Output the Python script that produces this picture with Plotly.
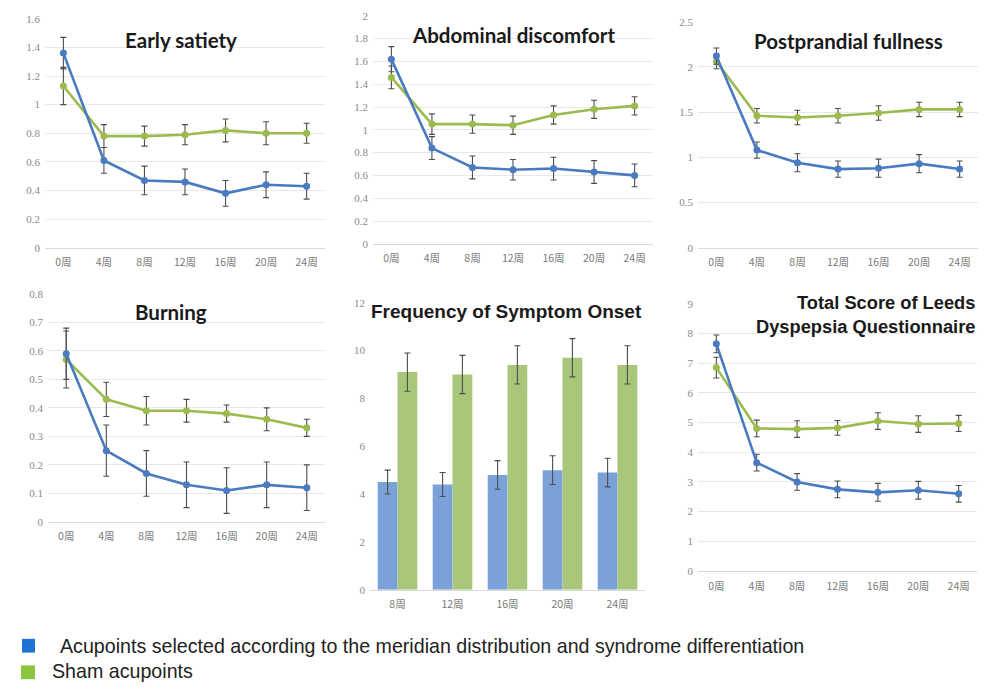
import plotly.graph_objects as go

W, H = 985, 692

weeks = ["0周", "4周", "8周", "12周", "16周", "20周", "24周"]
bar_weeks = ["8周", "12周", "16周", "20周", "24周"]

# Early satiety
es_real = [1.36, 0.61, 0.47, 0.46, 0.38, 0.44, 0.43]
es_real_err = [0.11, 0.09, 0.10, 0.09, 0.09, 0.09, 0.09]
es_sham = [1.13, 0.78, 0.78, 0.79, 0.82, 0.80, 0.80]
es_sham_err = [0.13, 0.08, 0.07, 0.07, 0.08, 0.08, 0.07]

# Abdominal discomfort
ad_real = [1.62, 0.84, 0.67, 0.65, 0.66, 0.63, 0.60]
ad_real_err = [0.11, 0.10, 0.10, 0.09, 0.10, 0.10, 0.10]
ad_sham = [1.46, 1.05, 1.05, 1.04, 1.13, 1.18, 1.21]
ad_sham_err = [0.10, 0.09, 0.08, 0.08, 0.08, 0.08, 0.08]

# Postprandial fullness
pf_real = [2.12, 1.08, 0.94, 0.87, 0.88, 0.93, 0.87]
pf_real_err = [0.09, 0.09, 0.10, 0.09, 0.10, 0.10, 0.09]
pf_sham = [2.06, 1.46, 1.44, 1.46, 1.49, 1.53, 1.53]
pf_sham_err = [0.08, 0.08, 0.08, 0.08, 0.08, 0.08, 0.08]

# Burning
bu_real = [0.59, 0.25, 0.17, 0.13, 0.11, 0.13, 0.12]
bu_real_err = [0.09, 0.09, 0.08, 0.08, 0.08, 0.08, 0.08]
bu_sham = [0.57, 0.43, 0.39, 0.39, 0.38, 0.36, 0.33]
bu_sham_err = [0.10, 0.06, 0.05, 0.04, 0.03, 0.04, 0.03]

# Frequency of symptom onset
fq_real = [4.5, 4.4, 4.8, 5.0, 4.9]
fq_real_err = [0.5, 0.5, 0.6, 0.6, 0.6]
fq_sham = [9.1, 9.0, 9.4, 9.7, 9.4]
fq_sham_err = [0.8, 0.8, 0.8, 0.8, 0.8]

# Total score of Leeds Dyspepsia Questionnaire
ld_real = [7.65, 3.65, 3.00, 2.75, 2.65, 2.72, 2.60]
ld_real_err = [0.30, 0.28, 0.28, 0.28, 0.30, 0.30, 0.28]
ld_sham = [6.85, 4.80, 4.78, 4.82, 5.05, 4.95, 4.97]
ld_sham_err = [0.35, 0.28, 0.28, 0.25, 0.28, 0.28, 0.27]

BLUE_LINE = "#4a7bc0"
GREEN_LINE = "#9bbb4f"
BLUE_BAR = "#7ba2d8"
GREEN_BAR = "#a8c77a"
ERR = "#4d4d4d"
TICK = dict(family="Liberation Serif", size=11, color="#8a8a8a")
XTICK = dict(family="Noto Sans CJK SC", size=10.5, color="#7a7a7a")


def xd(a, b):
    return [a / W, b / W]


def yd(top, bottom):
    return [1 - bottom / H, 1 - top / H]


fig = go.Figure()


def add_lines(idx, real, real_err, sham, sham_err):
    xa = "x" if idx == 1 else f"x{idx}"
    ya = "y" if idx == 1 else f"y{idx}"
    for vals, errs, col in ((sham, sham_err, GREEN_LINE), (real, real_err, BLUE_LINE)):
        fig.add_trace(go.Scatter(
            x=weeks, y=vals, xaxis=xa, yaxis=ya, mode="lines+markers",
            line=dict(color=col, width=2.6),
            marker=dict(color=col, size=7, symbol="circle"),
            error_y=dict(type="data", array=errs, color=ERR, thickness=1.1, width=3),
            showlegend=False,
        ))


add_lines(1, es_real, es_real_err, es_sham, es_sham_err)
add_lines(2, ad_real, ad_real_err, ad_sham, ad_sham_err)
add_lines(3, pf_real, pf_real_err, pf_sham, pf_sham_err)
add_lines(4, bu_real, bu_real_err, bu_sham, bu_sham_err)
add_lines(6, ld_real, ld_real_err, ld_sham, ld_sham_err)

for vals, errs, col in ((fq_real, fq_real_err, BLUE_BAR), (fq_sham, fq_sham_err, GREEN_BAR)):
    fig.add_trace(go.Bar(
        x=bar_weeks, y=vals, xaxis="x5", yaxis="y5", marker=dict(color=col, line=dict(width=0)),
        error_y=dict(type="data", array=errs, color=ERR, thickness=1.1, width=3),
        showlegend=False,
    ))

# panel geometry: (x-left, x-right, y-top, y-bottom, ymax, dtick, grid)
panels = {
    1: (45, 325, 13, 246, 1.6, 0.2, True),
    2: (373, 653, 10, 242, 2.0, 0.2, True),
    3: (698, 978, 16, 246, 2.5, 0.5, True),
    4: (48, 325, 293, 525, 0.8, 0.1, True),
    5: (370, 645, 302, 594, 12, 2, False),
    6: (698, 977, 303, 575, 9, 1, True),
}

layout = {}
for i, (x0, x1, y0, y1, ymax, dt, grid) in panels.items():
    sx = "" if i == 1 else str(i)
    layout["xaxis" + sx] = dict(
        domain=xd(x0, x1), anchor="y" + sx, type="category",
        showgrid=False, showline=True, linecolor="#d9d9d9", linewidth=1,
        ticks="", tickfont=XTICK, ticklabelstandoff=5, fixedrange=True, zeroline=False,
    )
    layout["yaxis" + sx] = dict(
        domain=yd(y0, y1), anchor="x" + sx, range=[0, ymax], dtick=dt,
        showgrid=grid, gridcolor="#e8e8e8", gridwidth=1, zeroline=False,
        showline=False, ticks="", tickfont=TICK, ticklabelstandoff=4, fixedrange=True,
    )

TITLE = dict(family="Lato", size=20.5, color="#1a1a1a")
TITLE_F = dict(family="Liberation Sans", size=19, color="#1a1a1a")
TITLE_L = dict(family="Liberation Sans", size=18.3, color="#1a1a1a")
annotations = [
    dict(text="<b>Early satiety</b>", x=181 / W, y=1 - 35 / H, font=TITLE),
    dict(text="<b>Abdominal discomfort</b>", x=513 / W, y=1 - 30 / H, font=TITLE),
    dict(text="<b>Postprandial fullness</b>", x=848 / W, y=1 - 36 / H, font=TITLE),
    dict(text="<b>Burning</b>", x=171 / W, y=1 - 311 / H, font=TITLE),
    dict(text="<b>Frequency of Symptom Onset</b>", x=506 / W, y=1 - 311 / H, font=TITLE_F),
    dict(text="<b>Total Score of Leeds</b>", x=977 / W, y=1 - 302 / H, font=TITLE_L, xanchor="right"),
    dict(text="<b>Dyspepsia Questionnaire</b>", x=977 / W, y=1 - 326 / H, font=TITLE_L, xanchor="right"),
]
for a in annotations:
    a.update(xref="paper", yref="paper", showarrow=False, yanchor="middle")
    a.setdefault("xanchor", "center")

LEG = dict(family="Liberation Sans", size=19.65, color="#222222")
annotations += [
    dict(text="Acupoints selected according to the meridian distribution and syndrome differentiation",
         x=58 / W, y=1 - 651 / H, font=LEG),
    dict(text="Sham acupoints", x=50 / W, y=1 - 677 / H, font=LEG),
]
for a in annotations[-2:]:
    a.update(xref="paper", yref="paper", showarrow=False, xanchor="left", yanchor="middle")

shapes = [
    dict(type="rect", xref="paper", yref="paper", x0=22 / W, x1=35 / W,
         y0=1 - 658 / H, y1=1 - 644 / H, fillcolor="#1f72d6", line=dict(width=0)),
    dict(type="rect", xref="paper", yref="paper", x0=21 / W, x1=35 / W,
         y0=1 - 685 / H, y1=1 - 671 / H, fillcolor="#8cc63f", line=dict(width=0)),
]

fig.update_layout(
    width=W, height=H, margin=dict(l=0, r=0, t=0, b=0),
    paper_bgcolor="white", plot_bgcolor="white",
    barmode="group", bargap=0.28, bargroupgap=0,
    annotations=annotations, shapes=shapes, **layout,
)

fig.write_html("out.html")
